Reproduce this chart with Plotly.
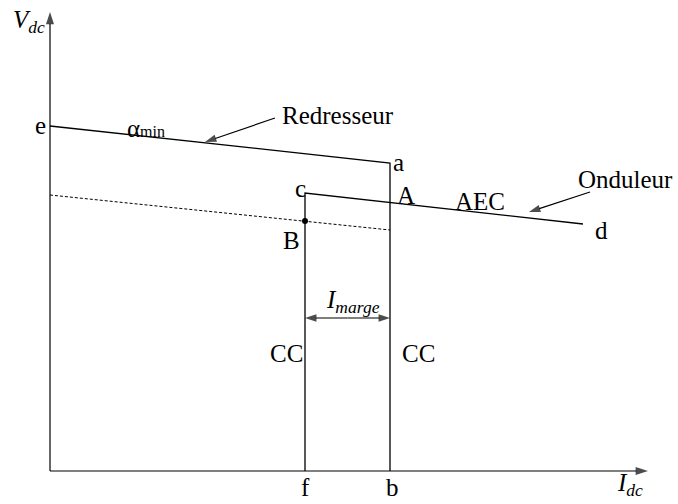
import plotly.graph_objects as go

# Characteristic points of the static Vdc-Idc control diagram (I and V in arbitrary units)
pt_e = (0.0, 34.5)
pt_a = (34.0, 30.8)
pt_b = (34.0, 0.0)
pt_c = (25.5, 27.8)
pt_d = (53.3, 24.7)
pt_f = (25.5, 0.0)
dash_start = (0.0, 27.6)
dash_end = (34.0, 24.1)
pt_B = (25.5, 25.0)

axis_x_end = 59.8
axis_y_end = 45.9
imarge_y = 15.3

# Text labels: (x, y, html text)
labels = [
    (-2.1, 45.0, "<i>V</i><sub><i>dc</i></sub>"),
    (-1.0, 34.6, "e"),
    (9.6, 34.3, "α<span style='font-size:16px'>min</span>"),
    (28.8, 35.6, "Redresseur"),
    (34.8, 30.9, "a"),
    (25.0, 28.3, "c"),
    (35.6, 27.6, "A"),
    (24.1, 23.1, "B"),
    (43.0, 27.0, "AEC"),
    (57.5, 29.2, "Onduleur"),
    (55.1, 24.1, "d"),
    (23.6, 11.8, "CC"),
    (36.8, 11.8, "CC"),
    (25.5, -1.6, "f"),
    (34.2, -1.6, "b"),
    (30.3, 17.0, "<i>I</i><sub><i>marge</i></sub>"),
    (58.0, -1.3, "<i>I</i><sub><i>dc</i></sub>"),
]

# Arrows drawn as (tail x, tail y, head x, head y, head size)
arrows = [
    (0.0, 0.0, axis_x_end, 0.0, 13),           # current axis
    (0.0, 0.0, 0.0, axis_y_end, 13),           # voltage axis
    (29.75, imarge_y, pt_b[0], imarge_y, 12),  # current margin, right half
    (29.75, imarge_y, pt_f[0], imarge_y, 12),  # current margin, left half
    (22.5, 35.3, 15.5, 32.9, 12),              # "Redresseur" pointer
    (54.0, 27.9, 47.9, 25.9, 12),              # "Onduleur" pointer
]

FONT = "Liberation Serif, Times New Roman, serif"
line_style = dict(color="black", width=1.3)

fig = go.Figure()

# Rectifier characteristic: alpha_min segment e-a then constant current a-b
fig.add_trace(go.Scatter(
    x=[pt_e[0], pt_a[0], pt_b[0]], y=[pt_e[1], pt_a[1], pt_b[1]],
    mode="lines", line=line_style, hoverinfo="skip"))

# Inverter characteristic: constant current f-c then AEC segment c-d
fig.add_trace(go.Scatter(
    x=[pt_f[0], pt_c[0], pt_d[0]], y=[pt_f[1], pt_c[1], pt_d[1]],
    mode="lines", line=line_style, hoverinfo="skip"))

# Dashed reference line
fig.add_trace(go.Scatter(
    x=[dash_start[0], dash_end[0]], y=[dash_start[1], dash_end[1]],
    mode="lines", line=dict(color="black", width=1, dash="3px,2px"),
    hoverinfo="skip"))

# Operating point B
fig.add_trace(go.Scatter(
    x=[pt_B[0]], y=[pt_B[1]], mode="markers",
    marker=dict(color="black", size=6), hoverinfo="skip"))

# Arrow shafts with arrowhead markers oriented along each segment
for tx, ty, hx, hy, hs in arrows:
    fig.add_trace(go.Scatter(
        x=[tx, hx], y=[ty, hy], mode="lines+markers",
        line=dict(color="black", width=1.2),
        marker=dict(symbol="arrow", size=[0, hs], angleref="previous",
                    color="black", line=dict(width=0)),
        hoverinfo="skip", cliponaxis=False))

annotations = []
for x, y, t in labels:
    annotations.append(dict(x=x, y=y, xref="x", yref="y", text=t,
                            showarrow=False, xanchor="center", yanchor="middle",
                            font=dict(family=FONT, size=25, color="black")))

fig.update_layout(
    width=678, height=504,
    margin=dict(l=0, r=0, t=0, b=0),
    paper_bgcolor="white", plot_bgcolor="white",
    showlegend=False,
    xaxis=dict(range=[-5.0, 62.8], visible=False, fixedrange=True),
    yaxis=dict(range=[-3.3, 47.1], visible=False, fixedrange=True),
    annotations=annotations,
)

fig.write_html("out.html")
